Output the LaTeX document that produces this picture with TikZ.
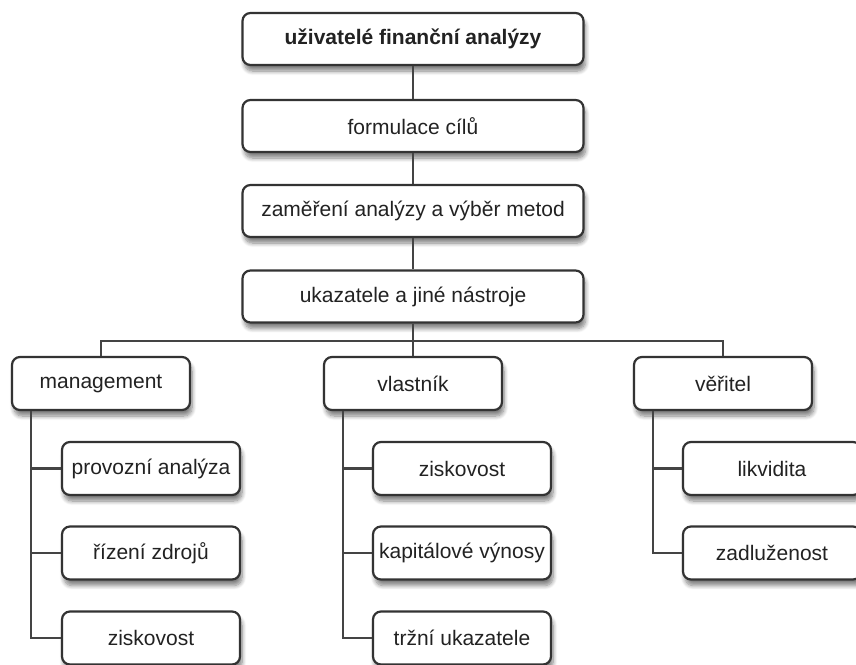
\documentclass[tikz,border=0pt]{standalone}
\usepackage{fontspec}
\setmainfont{Liberation Sans}
\usetikzlibrary{shadows.blur}
\definecolor{framegray}{RGB}{51,51,51}
\definecolor{linkgray}{RGB}{68,68,68}
\definecolor{textgray}{RGB}{34,34,34}
\tikzset{
  box/.style={draw=framegray, line width=1.1pt, rounded corners=4pt, fill=white,
    minimum width=89pt, minimum height=26.5pt, inner sep=1pt, text=textgray,
    font=\fontsize{10.5}{12}\selectfont,
    blur shadow={shadow xshift=1pt, shadow yshift=-3pt, shadow blur steps=8, shadow opacity=50}},
  widebox/.style={box, minimum width=170.5pt, minimum height=26pt},
  link/.style={draw=linkgray, line width=1.1pt}
}
\begin{document}
\begin{tikzpicture}[x=0.5pt, y=-0.5pt]
  \useasboundingbox (0,0) rectangle (856,664);
  \clip (0,0) rectangle (856,664);
  % chain of steps
  \node[widebox, font=\fontsize{10.5}{12}\selectfont\bfseries] (users) at (413,39) {uživatelé finanční analýzy};
  \node[widebox] (goals) at (413,126) {formulace cílů};
  \node[widebox] (focus) at (413,211) {zaměření analýzy a výběr metod};
  \node[widebox] (tools) at (413,296.5) {ukazatele a jiné nástroje};
  % groups
  \node[box] (mgmt) at (101,383.5) {management};
  \node[box] (owner) at (413,383.5) {vlastník};
  \node[box] (creditor) at (723,383.5) {věřitel};
  % management
  \node[box] (mopa) at (151,468.5) {provozní analýza};
  \node[box] (msrc) at (151,553) {řízení zdrojů};
  \node[box] (mprf) at (151,638) {ziskovost};
  % owner
  \node[box] (oprf) at (462,468.5) {ziskovost};
  \node[box] (ocap) at (462,553) {kapitálové výnosy};
  \node[box] (omkt) at (462,638) {tržní ukazatele};
  % creditor
  \node[box] (cliq) at (772,468.5) {likvidita};
  \node[box] (cdbt) at (772,553) {zadluženost};
  % connectors
  \coordinate (bus) at (413,341);
  \path[link] (users) -- (goals);
  \path[link] (goals) -- (focus);
  \path[link] (focus) -- (tools);
  \path[link] (tools) -- (owner);
  \path[link] (mgmt.north) |- (bus) -| (creditor.north);
  \coordinate (mtrunk) at ([xshift=10pt]mgmt.south west);
  \coordinate (otrunk) at ([xshift=10pt]owner.south west);
  \coordinate (ctrunk) at ([xshift=10pt]creditor.south west);
  \path[link] (mtrunk) |- (mprf.west);
  \path[link] (mopa.west) -- (mopa.west -| mtrunk);
  \path[link] (msrc.west) -- (msrc.west -| mtrunk);
  \path[link] (otrunk) |- (omkt.west);
  \path[link] (oprf.west) -- (oprf.west -| otrunk);
  \path[link] (ocap.west) -- (ocap.west -| otrunk);
  \path[link] (ctrunk) |- (cdbt.west);
  \path[link] (cliq.west) -- (cliq.west -| ctrunk);
\end{tikzpicture}
\end{document}
